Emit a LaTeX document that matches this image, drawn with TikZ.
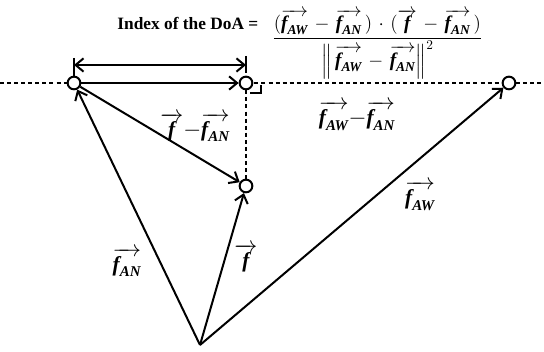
\documentclass[tikz,border=0pt]{standalone}
\usepackage{amsmath}
\usepackage{fontspec}
\setmainfont{Liberation Serif}
\usepackage{tikz}
\usetikzlibrary{arrows.meta, positioning}

\newcommand{\fvec}[1]{\overrightarrow{\text{\bfseries\itshape f}_{\text{\bfseries\itshape #1}}}}
\newcommand{\fone}{\overrightarrow{\text{\bfseries\itshape f}}}

\begin{document}
\begin{tikzpicture}[
    x=0.75pt, y=-0.75pt,
    >={Straight Barb[length=6pt, width=10pt]},
    pt/.style={draw, circle, line width=1.5pt, fill=white, minimum size=9.5pt, inner sep=0pt},
    vec/.style={->, line width=1.5pt},
    guide/.style={line width=1.5pt, dash pattern=on 3pt off 2.3pt},
    lbl/.style={font=\fontsize{16}{18}\selectfont},
]
    \useasboundingbox (0,0) rectangle (544,352);

    % Dashed line through the end points
    \coordinate (west) at (0,83);
    \coordinate (east) at (544,83);
    \draw[guide] (west) -- (east);

    % Points
    \node[pt] (an) at (74,83) {};
    \node[pt] (proj) at (246,83) {};
    \node[pt] (aw) at (509,83) {};
    \node[pt] (fend) at (246,186) {};
    \coordinate (orig) at (200,345);

    % Projection
    \draw[guide] (proj) -- (fend);
    \draw[line width=1.5pt] (250,93) -- (261,93) -- (261,85);

    % Vectors
    \draw[vec] (orig) -- (an);
    \draw[vec] (orig) -- (fend);
    \draw[vec] (orig) -- (aw);
    \draw[vec] (an) -- (fend);
    \draw[vec] (an) -- (proj);

    % Length of the projection
    \coordinate (dimL) at (74,65);
    \coordinate (dimR) at (246,65);
    \draw[line width=1.5pt] (74,58) -- (an);
    \draw[line width=1.5pt] (246,56) -- (246,73);
    \draw[<->, line width=1.5pt] (dimL) -- (dimR);

    % Formula
    \node[anchor=west, font=\fontsize{14.5}{17}\selectfont, inner sep=0pt] (frac) at (272,44)
        {$\medmuskip=6mu plus 2mu\dfrac{(\fvec{AW}-\fvec{AN}\,)\cdot(\fone-\fvec{AN}\,)}{\left\|\,\fvec{AW}-\fvec{AN}\right\|^2}$};
    \node[anchor=east, font=\fontsize{13}{15}\selectfont\bfseries] (title) at (263,23) {Index of the DoA =};

    % Labels
    \node[lbl] (lfdiff) at (195,127) {$\fone{-}\fvec{AN}$};
    \node[lbl] (lawan) at (357,116) {$\fvec{AW}{-}\fvec{AN}$};
    \node[lbl] (law) at (420,196) {$\fvec{AW}$};
    \node[lbl] (lan) at (127,262) {$\fvec{AN}$};
    \node[lbl] (lf) at (246,258) {$\fone$};
\end{tikzpicture}
\end{document}
